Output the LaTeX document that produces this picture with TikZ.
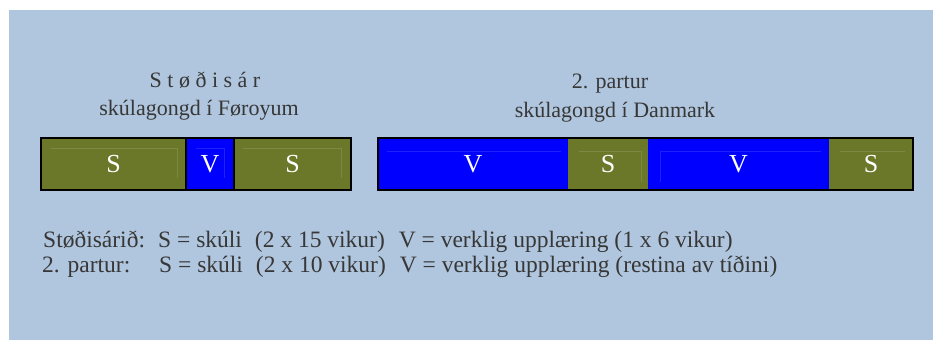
\documentclass[tikz,border=0pt]{standalone}
\usepackage{fontspec}
\setmainfont{Liberation Serif}
\usepackage{tikz}
\usetikzlibrary{positioning}
\definecolor{bgblue}{RGB}{176,198,222}
\definecolor{olive}{RGB}{107,120,42}
\definecolor{blueseg}{RGB}{0,0,255}
\definecolor{txtgray}{RGB}{55,55,55}
\tikzset{
  frame/.style={draw=black, line width=2pt},
  seglbl/.style={text=white, font=\fontsize{26}{26}\selectfont},
  ttl/.style={text=txtgray, font=\fontsize{22}{22}\selectfont, anchor=base},
  note/.style={text=txtgray, font=\fontsize{23.5}{23.5}\selectfont, anchor=base west, inner sep=0pt}
}

\begin{document}
\begin{tikzpicture}[x=1pt, y=-1pt]
      \useasboundingbox (0, 0) rectangle (933, 340);
      \fill [bgblue] (9, 10) rectangle (933, 340);
      % titles
      \node (t1a) [ttl] at (205, 87) {S t ø ð i s á r};
      \node (t1b) [ttl] at (199, 115) {skúlagongd í Føroyum};
      \node (t2a) [ttl] at (610, 88) {2. partur};
      \node (t2b) [ttl] at (615, 117) {skúlagongd í Danmark};
      % left bar
      \fill [olive] (41, 138) rectangle (186, 190) node (s1) [pos=.5, seglbl] {S};
      \fill [blueseg] (186, 138) rectangle (234, 190) node (v1) [pos=.5, seglbl] {V};
      \fill [olive] (234, 138) rectangle (351, 190) node (s2) [pos=.5, seglbl] {S};
      \draw [frame] (41, 138) rectangle (351, 190)
                    (186, 138) -- (186, 190)
                    (234, 138) -- (234, 190);
      % right bar
      \fill [blueseg] (378, 138) rectangle (568, 190) node (v2) [pos=.5, seglbl] {V};
      \fill [olive] (568, 138) rectangle (648, 190) node (s3) [pos=.5, seglbl] {S};
      \fill [blueseg] (648, 138) rectangle (829, 190) node (v3) [pos=.5, seglbl] {V};
      \fill [olive] (829, 138) rectangle (913, 190) node (s4) [pos=.5, seglbl] {S};
      \draw [frame] (378, 138) rectangle (913, 190);
      % faint inner edges
      \draw [white, opacity=.12, line width=.6pt]
            (51, 148) -- (177, 148) -- (177, 178)
            (196, 148) -- (224, 148) -- (224, 178)
            (243, 148) -- (341, 148) -- (341, 178)
            (387, 151) -- (561, 151)
            (579, 151) -- (641, 151) -- (641, 182)
            (660, 182) -- (660, 151) -- (821, 151)
            (840, 151) -- (905, 151);
      % legend
      \node (l1a) [note] at (43, 247) {Støðisárið:};
      \node (l1b) [note] at (158, 247) {S = skúli\hspace{13pt}(2 x 15 vikur)\hspace{14pt}V = verklig upplæring (1 x 6 vikur)};
      \node (l2a) [note] at (42, 272) {2. partur:};
      \node (l2b) [note] at (159, 272) {S = skúli\hspace{13pt}(2 x 10 vikur)\hspace{14pt}V = verklig upplæring (restina av tíðini)};
\end{tikzpicture}
\end{document}
